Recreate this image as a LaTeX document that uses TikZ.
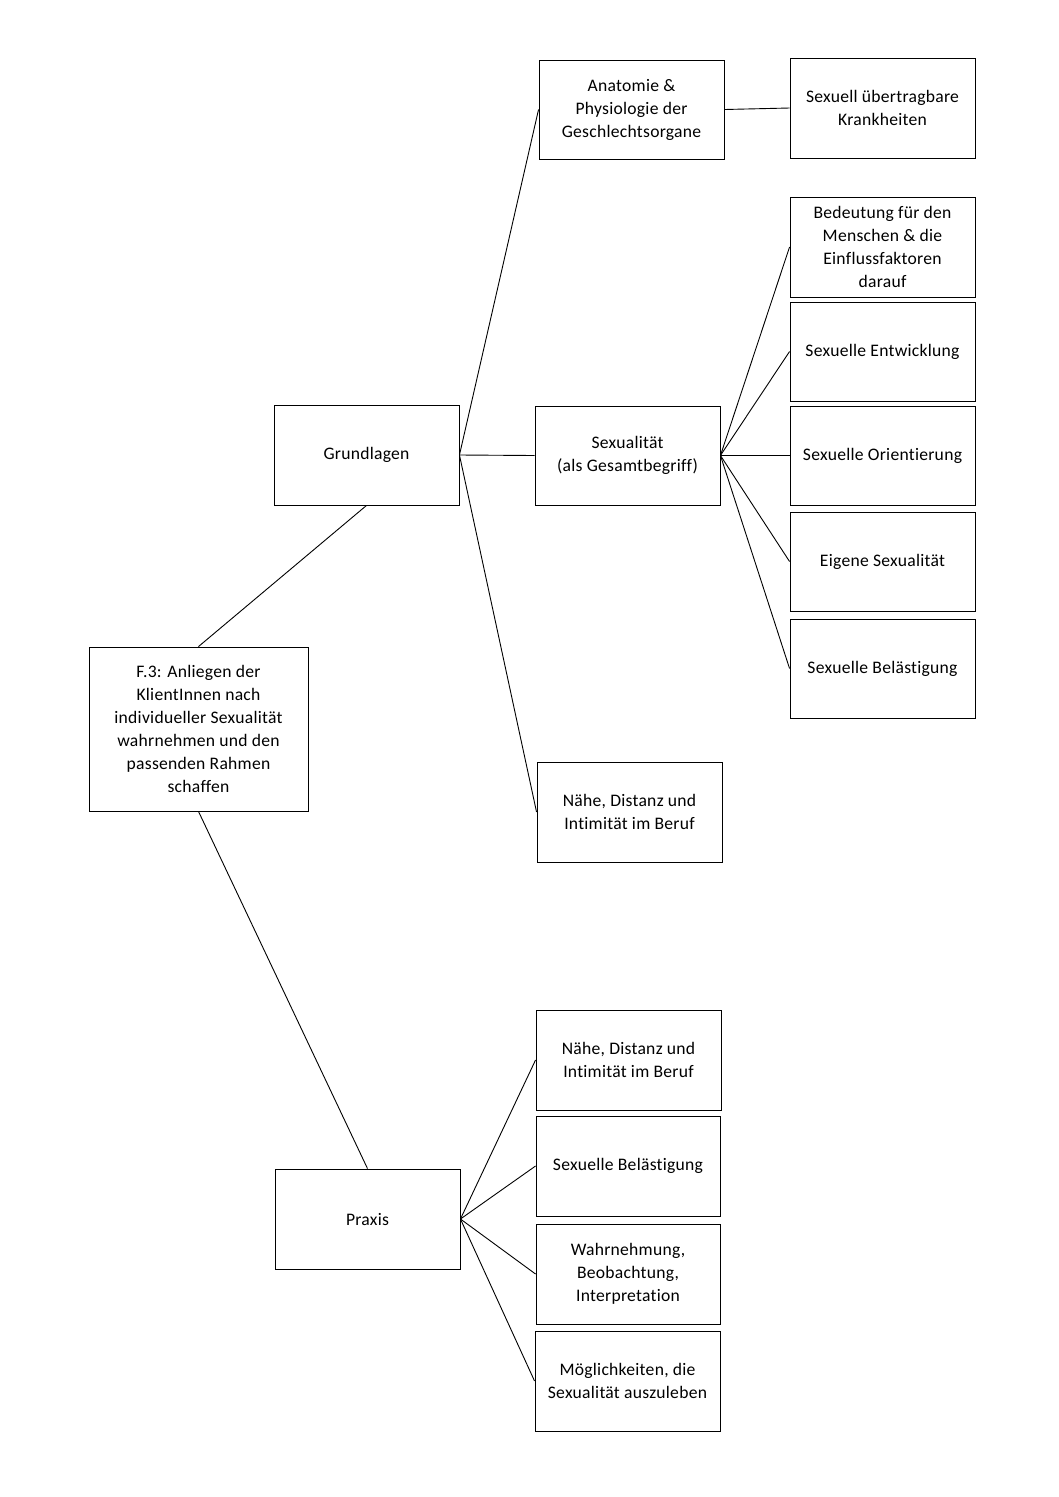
\documentclass[tikz,border=0pt]{standalone}
\usepackage{fontspec}
\setmainfont{Carlito}[Ligatures=NoCommon,LetterSpace=1.5]
\begin{document}
\begin{tikzpicture}[x=1pt,y=-1pt,
  box/.style={draw, line width=0.9pt, align=center, inner sep=0pt,
    font=\fontsize{17.6}{23}\selectfont},
  link/.style={line width=0.9pt}]
\useasboundingbox (0,0) rectangle (1058,1497);
% boxes: (x1,y1) to (x2,y2)
\newcommand{\bx}[6]{%
  \node[box, minimum width={(#4-#2)*1pt}, minimum height={(#5-#3)*1pt}] (#1) at ({(#2+#4)/2},{(#3+#5)/2}) {#6};}
\bx{f3}{89}{647}{308}{811}{F.3: Anliegen der\\KlientInnen nach\\individueller Sexualität\\wahrnehmen und den\\passenden Rahmen\\schaffen}
\bx{grund}{274}{405}{459}{505}{Grundlagen}
\bx{praxis}{275}{1169}{460}{1269}{Praxis}
\bx{anat}{539}{60}{724}{159}{Anatomie \&\\Physiologie der\\Geschlechtsorgane}
\bx{sexall}{535}{406}{720}{505}{Sexualität\\(als Gesamtbegriff)}
\bx{naehe}{537}{762}{722}{862}{Nähe, Distanz und\\Intimität im Beruf}
\bx{stk}{790}{58}{975}{158}{Sexuell übertragbare\\Krankheiten}
\bx{bed}{790}{197}{975}{297}{Bedeutung für den\\Menschen \& die\\Einflussfaktoren\\darauf}
\bx{entw}{790}{302}{975}{401}{Sexuelle Entwicklung}
\bx{orie}{790}{406}{975}{505}{Sexuelle Orientierung}
\bx{eig}{790}{512}{975}{611}{Eigene Sexualität}
\bx{bel}{790}{619}{975}{718}{Sexuelle Belästigung}
\bx{pnaehe}{536}{1010}{721}{1110}{Nähe, Distanz und\\Intimität im Beruf}
\bx{pbel}{536}{1116}{720}{1216}{Sexuelle Belästigung}
\bx{wahr}{536}{1224}{720}{1324}{Wahrnehmung,\\Beobachtung,\\Interpretation}
\bx{moeg}{535}{1331}{720}{1431}{Möglichkeiten, die\\Sexualität auszuleben}
% connectors
\draw[link] (f3.north) -- (grund.south);
\draw[link] (f3.south) -- (praxis.north);
\foreach \t in {anat,sexall,naehe} \draw[link] (grund.east) -- (\t.west);
\draw[link] (anat.east) -- (stk.west);
\foreach \t in {bed,entw,orie,eig,bel} \draw[link] (sexall.east) -- (\t.west);
\foreach \t in {pnaehe,pbel,wahr,moeg} \draw[link] (praxis.east) -- (\t.west);
\end{tikzpicture}
\end{document}
